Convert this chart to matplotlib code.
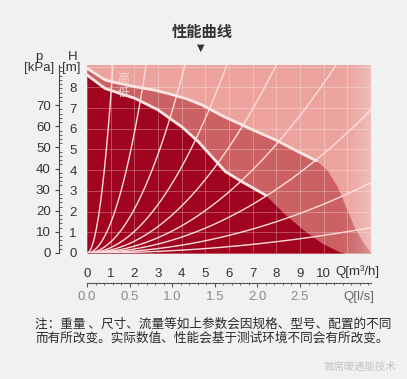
import numpy as np
import matplotlib.pyplot as plt
from matplotlib.ticker import FixedLocator, MultipleLocator

plt.rcParams['font.family'] = ['Liberation Sans', 'Noto Sans CJK SC', 'DejaVu Sans']

# curva alta (linha branca) e continuação da área média
q_high = [0, 0.76, 1.33, 2.03, 2.8, 3.44, 4.2, 4.86, 5.35, 5.85, 6.4, 6.9, 7.97, 9.0, 9.7]
h_high = [8.92, 8.36, 8.2, 8.03, 7.88, 7.7, 7.45, 7.15, 6.85, 6.55, 6.27, 6.0, 5.46, 4.85, 4.45]
q_high_ext = [9.7, 10.15, 10.58, 10.93, 11.28, 11.64, 12.0]
h_high_ext = [4.45, 4.0, 3.2, 2.24, 1.27, 0.55, 0.0]

# curva baixa (linha branca) e continuação da área escura
q_low = [0, 0.76, 1.4, 2.03, 3.02, 3.5, 4.0, 4.7, 5.28, 5.85, 6.55, 7.54]
h_low = [8.6, 7.95, 7.7, 7.47, 6.9, 6.5, 6.1, 5.38, 4.65, 3.93, 3.44, 2.8]
q_low_ext = [7.54, 8.39, 9.24, 9.94, 10.65, 10.9]
h_low_ext = [2.8, 1.84, 1.03, 0.47, 0.06, 0.0]

# coeficientes das curvas do sistema H = k * Q^2
k_sys = [7.5, 1.45, 0.53, 0.26, 0.142, 0.082, 0.048, 0.0236, 0.0085]

q_ticks = list(range(0, 11))
h_ticks = list(range(0, 9))
p_ticks = [0, 10, 20, 30, 40, 50, 60, 70]
qls_ticks = [0.0, 0.5, 1.0, 1.5, 2.0, 2.5]

c_dark = '#a1041f'
c_mid = '#cb6163'
c_light = '#eca39d'
bg = '#f1f1f1'

fig = plt.figure(figsize=(4.07, 3.79), dpi=100, facecolor=bg)
ax = fig.add_axes([0.2138, 0.3325, 0.6977, 0.496])
ax.set_xlim(0, 12)
ax.set_ylim(0, 9.08)
ax.set_facecolor(c_light)
for s in ax.spines.values():
    s.set_visible(False)

# áreas
qa = np.array(q_high + q_high_ext[1:])
ha = np.array(h_high + h_high_ext[1:])
ax.fill_between(qa, 0, ha, color=c_mid, lw=0, zorder=1)
qb = np.array(q_low + q_low_ext[1:])
hb = np.array(h_low + h_low_ext[1:])
ax.fill_between(qb, 0, hb, color=c_dark, lw=0, zorder=1.5)

# grade
for q in range(1, 12):
    ax.axvline(q, color='white', lw=0.6, alpha=0.33, zorder=2)
for h in range(1, 10):
    ax.axhline(h, color='white', lw=0.6, alpha=0.33, zorder=2)

# curvas do sistema
qq = np.linspace(0, 12, 300)
for k in k_sys:
    ax.plot(qq, k * qq**2, color='#ffdcdc', lw=1.0, zorder=3)

# curvas da bomba
ax.plot(q_high, h_high, color='#fbe6e4', lw=2.0, zorder=4, solid_capstyle='round')
ax.plot(q_low, h_low, color='#fbe6e4', lw=2.0, zorder=4, solid_capstyle='round')
ax.text(1.53, 8.45, '高', color='#f7d3d0', fontsize=8.5, ha='center', va='center',
        family=['Noto Sans CJK SC'], zorder=5)
ax.text(1.53, 7.75, '低', color='#f7d3d0', fontsize=8.5, ha='center', va='center',
        family=['Noto Sans CJK SC'], zorder=5)

# desvanecimento na borda direita
grad = np.zeros((1, 100, 4))
grad[..., :3] = 0.96
grad[..., 3] = np.linspace(0, 0.5, 100) ** 1.5
ax.imshow(grad, extent=[10.6, 12, 0, 9.08], aspect='auto', zorder=6, interpolation='bilinear')
ax.set_xlim(0, 12)
ax.set_ylim(0, 9.08)

# eixo H
ax.set_yticks(h_ticks)
ax.set_yticklabels([str(h) for h in h_ticks])
ax.tick_params(axis='y', length=0, pad=10, labelsize=9.5, labelcolor='#333333')
for lab in ax.get_yticklabels():
    lab.set_horizontalalignment('center')

# eixo Q m3/h
ax.set_xticks(q_ticks)
ax.tick_params(axis='x', length=0, pad=11, labelsize=9.5, labelcolor='#333333')

# eixo p kPa
pax = ax.secondary_yaxis(-0.0986, functions=(lambda h: h * 9.81, lambda p: p / 9.81))
pax.yaxis.set_major_locator(FixedLocator(p_ticks))
pax.yaxis.set_minor_locator(MultipleLocator(2))
pax.tick_params(which='major', direction='out', length=3, width=0.8, color='#444444',
                labelsize=9.5, labelcolor='#333333', pad=3)
pax.tick_params(which='minor', direction='in', length=2, width=0.6, color='#444444')
pax.spines['left'].set_color('#444444')
pax.spines['left'].set_linewidth(0.8)

# eixo Q l/s
qax = ax.secondary_xaxis(-0.16, functions=(lambda q: q / 3.6, lambda q: q * 3.6))
qax.xaxis.set_major_locator(FixedLocator(qls_ticks))
qax.xaxis.set_minor_locator(MultipleLocator(0.1))
qax.set_xticklabels(['%.1f' % v for v in qls_ticks])
qax.tick_params(which='major', direction='out', length=3, width=0.8, color='#555555',
                labelsize=9.5, labelcolor='#8a8a8a', pad=3)
qax.tick_params(which='minor', direction='out', length=1.5, width=0.6, color='#555555')
qax.spines['bottom'].set_color('#555555')
qax.spines['bottom'].set_linewidth(0.8)

# textos
fig.text(39 / 407, 1 - 57 / 379, 'p', ha='center', va='center', fontsize=9.5, color='#333333')
fig.text(39 / 407, 1 - 68 / 379, '[kPa]', ha='center', va='center', fontsize=9.5, color='#333333')
fig.text(73 / 407, 1 - 57 / 379, 'H', ha='center', va='center', fontsize=9.5, color='#333333')
fig.text(71 / 407, 1 - 68 / 379, '[m]', ha='center', va='center', fontsize=9.5, color='#333333')
fig.text(357 / 407, 1 - 272 / 379, 'Q[m³/h]', ha='center', va='center', fontsize=9.5, color='#333333')
fig.text(359 / 407, 1 - 297 / 379, 'Q[l/s]', ha='center', va='center', fontsize=9.5, color='#666666')

fig.text(202 / 407, 1 - 32 / 379, '性能曲线', ha='center', va='center', fontsize=11,
         fontweight='bold', color='#333333', family=['Noto Sans CJK SC', 'DejaVu Sans'])
fig.text(201 / 407, 1 - 48 / 379, '▼', ha='center', va='center', fontsize=7,
         color='#333333', family=['DejaVu Sans'])

note = ('注：重量 、尺寸、流量等如上参数会因规格、型号、配置的不同\n'
        '而有所改变。实际数值、性能会基于测试环境不同会有所改变。')
fig.text(35 / 407, 1 - 331 / 379, note, ha='left', va='center', fontsize=9.1,
         color='#2a2a2a', linespacing=1.15, family=['Noto Sans CJK SC', 'DejaVu Sans'])
fig.text(360 / 407, 1 - 367 / 379, '首席暖通能技术', ha='center', va='center', fontsize=7.5,
         color='#c4c4c4', family=['Noto Sans CJK SC', 'DejaVu Sans'])

fig.savefig('out.png', dpi=100, facecolor=bg)
